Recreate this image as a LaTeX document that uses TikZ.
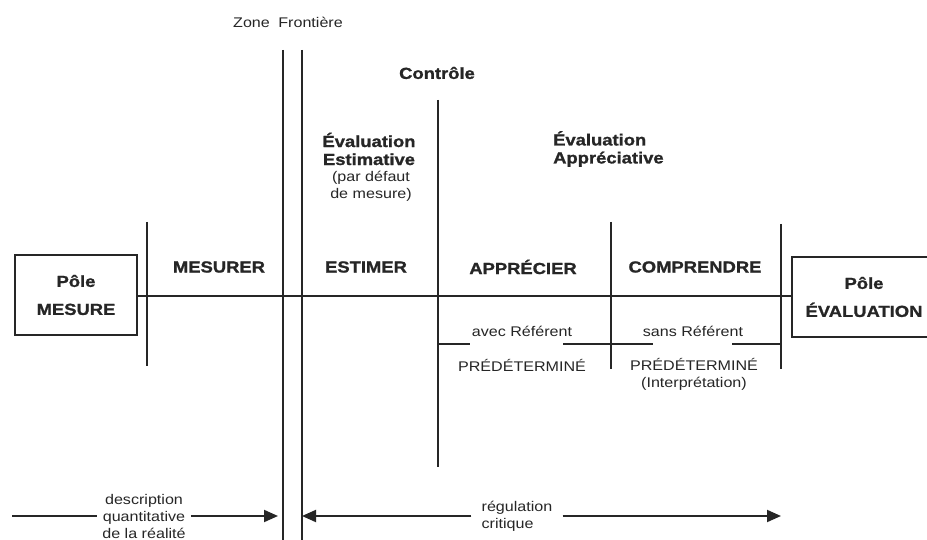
\documentclass[tikz,border=0pt]{standalone}
\usepackage{fontspec}
\setmainfont{Liberation Sans}[FakeStretch=1.15,BoldFeatures={FakeBold=1.2}]
\usetikzlibrary{arrows.meta}
\definecolor{ink}{HTML}{262626}
\begin{document}
\begin{tikzpicture}[x=1pt,y=-1pt,
  ln/.style={draw=ink,line width=1.9pt},
  bx/.style={draw=ink,line width=2.8pt,inner sep=0pt,text=ink},
  hd/.style={font=\fontsize{16}{18}\selectfont\bfseries,align=center,inner sep=0pt,text=ink},
  tx/.style={font=\fontsize{14}{17}\selectfont,align=center,inner sep=0pt,text=ink},
  arr/.style={ln,-{Triangle[length=14pt,width=12pt]}}]
\useasboundingbox (0,0) rectangle (927,540);
\fill[white] (0,0) rectangle (927,540);

% pole boxes
\node[bx,minimum width=122pt,minimum height=80pt,align=center,
  font=\fontsize{16}{28}\selectfont\bfseries] (pm) at (76,295) {Pôle\\MESURE};
\node[bx,minimum width=150pt,minimum height=80pt,
  font=\fontsize{16}{28}\selectfont\bfseries] (pe) at (867,297) {};
\node[hd,font=\fontsize{16}{28}\selectfont\bfseries] (pet) at (864,297) {Pôle\\ÉVALUATION};

% main axis
\draw[ln] (pm.east |- 0,296) -- (pe.west |- 0,296);

% vertical lines
\coordinate (v1t) at (147,222); \coordinate (v1b) at (147,366);
\coordinate (z1t) at (283,50);  \coordinate (z1b) at (283,545);
\coordinate (z2t) at (302,50);  \coordinate (z2b) at (302,545);
\coordinate (ct)  at (438,100); \coordinate (cb)  at (438,467);
\coordinate (v4t) at (611,222); \coordinate (v4b) at (611,369);
\coordinate (v5t) at (781,224); \coordinate (v5b) at (781,369);
\draw[ln] (v1t) -- (v1b);
\draw[ln] (z1t) -- (z1b);
\draw[ln] (z2t) -- (z2b);
\draw[ln] (ct) -- (cb);
\draw[ln] (v4t) -- (v4b);
\draw[ln] (v5t) -- (v5b);

% top labels
\node[tx] (zf) at (288,22) {Zone\hspace{4pt} Frontière};
\node[hd] (ctrl) at (437,73) {Contrôle};
\node[hd] (ee) at (369,149) {Évaluation\\Estimative};
\node[tx] (pd) at (371,186) {(par défaut\\de mesure)};
\node[hd,align=left,anchor=west] (ea) at (553,149) {Évaluation\\Appréciative};

% column labels
\node[hd] (c1) at (219,267) {MESURER};
\node[hd] (c2) at (366,267) {ESTIMER};
\node[hd] (c3) at (523,267) {APPRÉCIER};
\node[hd] (c4) at (695,267) {COMPRENDRE};

% referent sub-lines
\node[tx] (ar) at (522,331) {avec Référent};
\node[tx] (sr) at (693,331) {sans Référent};
\draw[ln] (ct |- 0,344) -- (470,344);
\draw[ln] (563,344) -- (v4t |- 0,344);
\draw[ln] (v4t |- 0,344) -- (653,344);
\draw[ln] (732,344) -- (v5t |- 0,344);
\node[tx] (p1) at (522,365) {PRÉDÉTERMINÉ};
\node[tx,align=center] (p2) at (694,374) {PRÉDÉTERMINÉ\\(Interprétation)};

% bottom arrows
\node[tx,inner xsep=5pt] (desc) at (144,516) {description\\quantitative\\de la réalité};
\coordinate (dl) at (12,516);
\coordinate (zl) at (278,516);
\draw[ln] (dl) -- (desc.west);
\draw[arr] (desc.east) -- (zl);

\node[tx,align=left,inner xsep=10pt] (reg) at (517,516) {régulation\\critique};
\coordinate (zr) at (302,516);
\coordinate (rt) at (781,516);
\draw[arr] (reg.west) -- (zr);
\draw[arr] (reg.east) -- (rt);
\end{tikzpicture}
\end{document}
